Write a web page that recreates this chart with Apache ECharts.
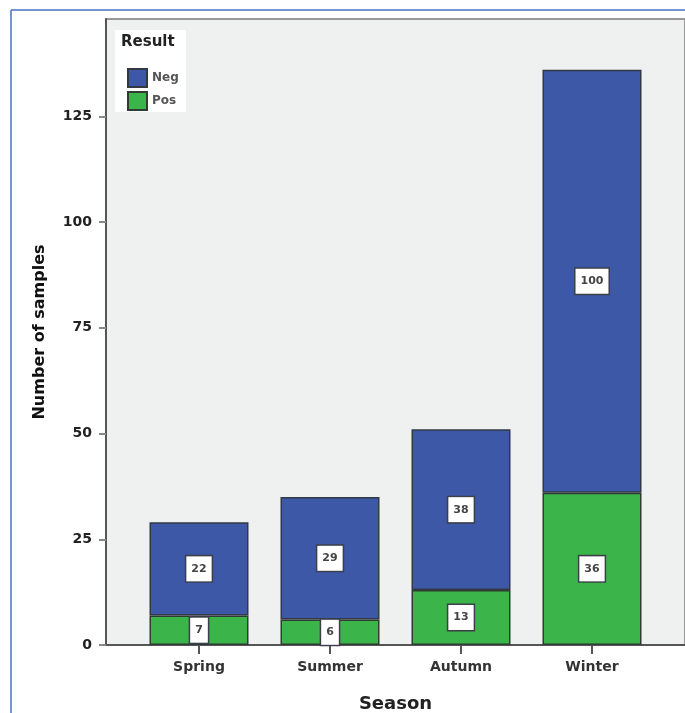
<!DOCTYPE html>
<html><head><meta charset="utf-8">
<script src="https://cdn.jsdelivr.net/npm/echarts@6/dist/echarts.min.js"></script>
<style>html,body{margin:0;padding:0;background:#fff}#c{width:685px;height:713px}</style>
</head><body><div id="c"></div>
<script>
const seasons = ['Spring', 'Summer', 'Autumn', 'Winter'];
const negValues = [22, 29, 38, 100];
const posValues = [7, 6, 13, 36];
const yTicks = [0, 25, 50, 75, 100, 125];
const yMax = 148;

const FONT = 'DejaVu Sans';
const chart = echarts.init(document.getElementById('c'));
const labelStyle = {
  show: true, position: 'inside', backgroundColor: '#fff', borderColor: '#3a3f4a', borderWidth: 1.5,
  padding: [8, 5, 6, 5], fontSize: 11, fontWeight: 'bold', color: '#444', fontFamily: FONT
};
chart.setOption({
  animation: false,
  textStyle: { fontFamily: FONT },
  grid: [
    { left: 106, right: 0, top: 19, bottom: 68, show: true, backgroundColor: '#eff0f0', borderColor: '#999', borderWidth: 2, outerBoundsMode: 'none', containLabel: false },
    { left: 133.5, right: 27.5, top: 19, bottom: 68, outerBoundsMode: 'none', containLabel: false }
  ],
  xAxis: [
    { gridIndex: 0, type: 'value', min: 0, max: 1,
      axisLine: { show: true, lineStyle: { color: '#555', width: 2 } },
      axisTick: { show: false }, axisLabel: { show: false }, splitLine: { show: false },
      name: 'Season', nameLocation: 'middle', nameGap: 50,
      nameTextStyle: { fontSize: 18, fontWeight: 'bold', color: '#222', fontFamily: FONT } },
    { gridIndex: 1, type: 'category', data: seasons,
      axisLine: { show: false },
      axisTick: { show: true, alignWithLabel: true, length: 9, lineStyle: { color: '#555', width: 2 } },
      axisLabel: { margin: 15, fontSize: 14, fontWeight: 'bold', color: '#333', fontFamily: FONT } }
  ],
  yAxis: [
    { gridIndex: 0, type: 'value', min: 0, max: yMax,
      axisLine: { show: true, lineStyle: { color: '#555', width: 2 } },
      axisTick: { show: true, length: 7, customValues: yTicks, lineStyle: { color: '#888', width: 2 } },
      axisLabel: { customValues: yTicks, fontSize: 14, fontWeight: 'bold', color: '#222', margin: 14, fontFamily: FONT },
      splitLine: { show: false },
      name: 'Number of samples', nameLocation: 'middle', nameGap: 58,
      nameTextStyle: { fontSize: 16, fontWeight: 'bold', color: '#111', fontFamily: FONT } },
    { gridIndex: 1, type: 'value', min: 0, max: yMax, show: false, splitLine: { show: false } }
  ],
  legend: {
    data: ['Neg', 'Pos'], orient: 'vertical', left: 122, top: 63, itemWidth: 19, itemHeight: 18, itemGap: 3,
    icon: 'rect', z: 100, textStyle: { fontSize: 12, fontWeight: 'bold', color: '#555', fontFamily: FONT }
  },
  graphic: [
    { type: 'line', shape: { x1: 11, y1: 10, x2: 685, y2: 10 }, style: { stroke: '#4a6fc0', lineWidth: 1.5 } },
    { type: 'line', shape: { x1: 11, y1: 10, x2: 11, y2: 713 }, style: { stroke: '#4a6fc0', lineWidth: 1.5 } },
    { type: 'rect', shape: { x: 115, y: 30, width: 71, height: 82 }, style: { fill: '#fff' }, z: 50 },
    { type: 'text', left: 121, top: 35, style: { text: 'Result', fontSize: 15, fontWeight: 'bold', fill: '#222', fontFamily: FONT }, z: 51 }
  ],
  series: [
    { name: 'Pos', type: 'bar', stack: 'a', xAxisIndex: 1, yAxisIndex: 1, data: posValues, barWidth: 99,
      itemStyle: { color: '#3bb54a', borderColor: '#2f3b33', borderWidth: 1.5 }, label: labelStyle },
    { name: 'Neg', type: 'bar', stack: 'a', xAxisIndex: 1, yAxisIndex: 1, data: negValues, barWidth: 99,
      itemStyle: { color: '#3d58a7', borderColor: '#333845', borderWidth: 1.5 }, label: labelStyle }
  ]
});
</script></body></html>
